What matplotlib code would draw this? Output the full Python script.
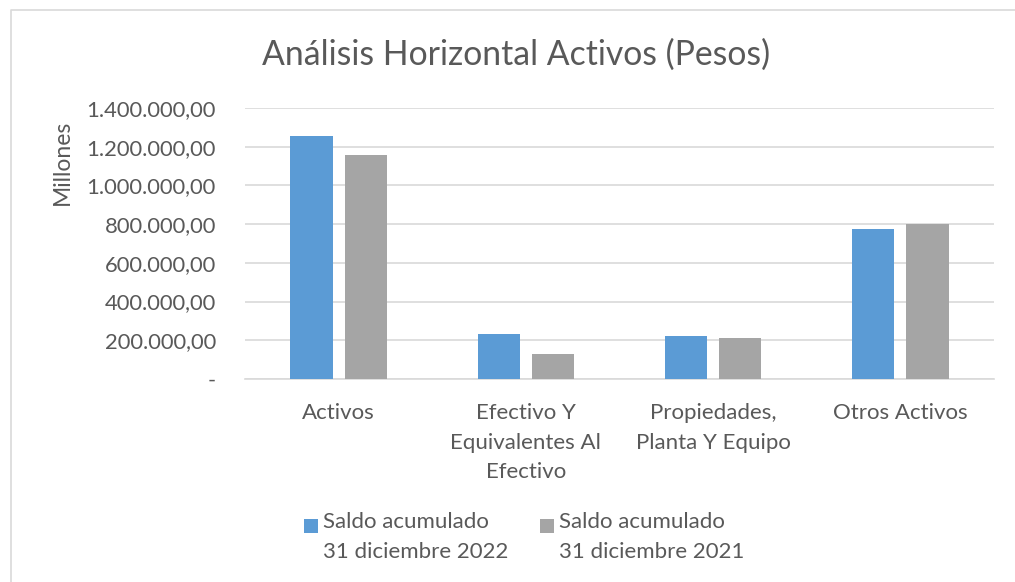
import matplotlib
matplotlib.use('Agg')
import matplotlib.pyplot as plt
from matplotlib.patches import Rectangle
from matplotlib.lines import Line2D
import numpy as np

categories = ["Activos", "Efectivo Y\nEquivalentes Al\nEfectivo",
              "Propiedades,\nPlanta Y Equipo", "Otros Activos"]
saldo_2022 = [1257000, 232000, 224000, 775000]
saldo_2021 = [1158000, 129000, 210000, 802000]
series_labels = ["Saldo acumulado\n31 diciembre 2022", "Saldo acumulado\n31 diciembre 2021"]
yticks = [0, 200000, 400000, 600000, 800000, 1000000, 1200000, 1400000]

BLUE = '#5B9BD5'
GRAY = '#A5A5A5'
TEXT = '#595959'
GRID = '#D9D9D9'

W, H = 1015, 582
plt.rcParams['font.family'] = ['Lato', 'DejaVu Sans']


def px(x, y):
    """Pixel position (from top left) to figure fraction."""
    return x / W, 1 - y / H


def fmt(v):
    if v == 0:
        return '-'
    s = f"{v:,.2f}"
    return s.replace(',', 'X').replace('.', ',').replace('X', '.')


fig = plt.figure(figsize=(W / 100, H / 100), dpi=100)
ax = fig.add_axes([245 / W, 1 - 379 / H, (994 - 245) / W, (379 - 108) / H])

x = np.arange(len(categories))
bw = 0.225
off = 0.145
ax.bar(x - off, saldo_2022, bw, color=BLUE, zorder=3)
ax.bar(x + off, saldo_2021, bw, color=GRAY, zorder=3)

ax.set_xlim(-0.5, len(categories) - 0.5)
ax.set_ylim(0, 1400000)
ax.set_yticks(yticks)
ax.set_yticklabels([fmt(v) for v in yticks])
ax.set_xticks(x)
ax.set_xticklabels(categories, linespacing=1.62, va='top')
ax.tick_params(axis='y', length=0, pad=21, labelsize=15.8, labelcolor=TEXT)
ax.tick_params(axis='x', length=0, pad=17, labelsize=16, labelcolor=TEXT)
ax.grid(axis='y', color=GRID, linewidth=1.2, zorder=0)
for side in ['top', 'right', 'left']:
    ax.spines[side].set_visible(False)
ax.spines['bottom'].set_color(GRID)
ax.spines['bottom'].set_linewidth(1.2)

fig.text(*px(516, 55), "Análisis Horizontal Activos (Pesos)", ha='center', va='center',
         fontsize=24.3, color=TEXT)
fig.text(*px(62, 162), "Millones", ha='center', va='center', rotation=90,
         fontsize=16.5, color=TEXT)

# legend, Excel style: square beside the first line of each label
for (sx, tx), col, lab in zip([(304, 323), (540, 559)], [BLUE, GRAY], series_labels):
    fig.patches.append(Rectangle(px(sx, 533), 14 / W, 14 / H, transform=fig.transFigure,
                                 facecolor=col, edgecolor='none'))
    fig.text(*px(tx, 512), lab, ha='left', va='top', fontsize=16, color=TEXT,
             linespacing=1.65)

# chart border
fig.lines.append(Line2D([11 / W, 11 / W, 1], [0, 1 - 10 / H, 1 - 10 / H],
                        transform=fig.transFigure, color=GRID, linewidth=1.2))

fig.savefig('out.png', dpi=100)
